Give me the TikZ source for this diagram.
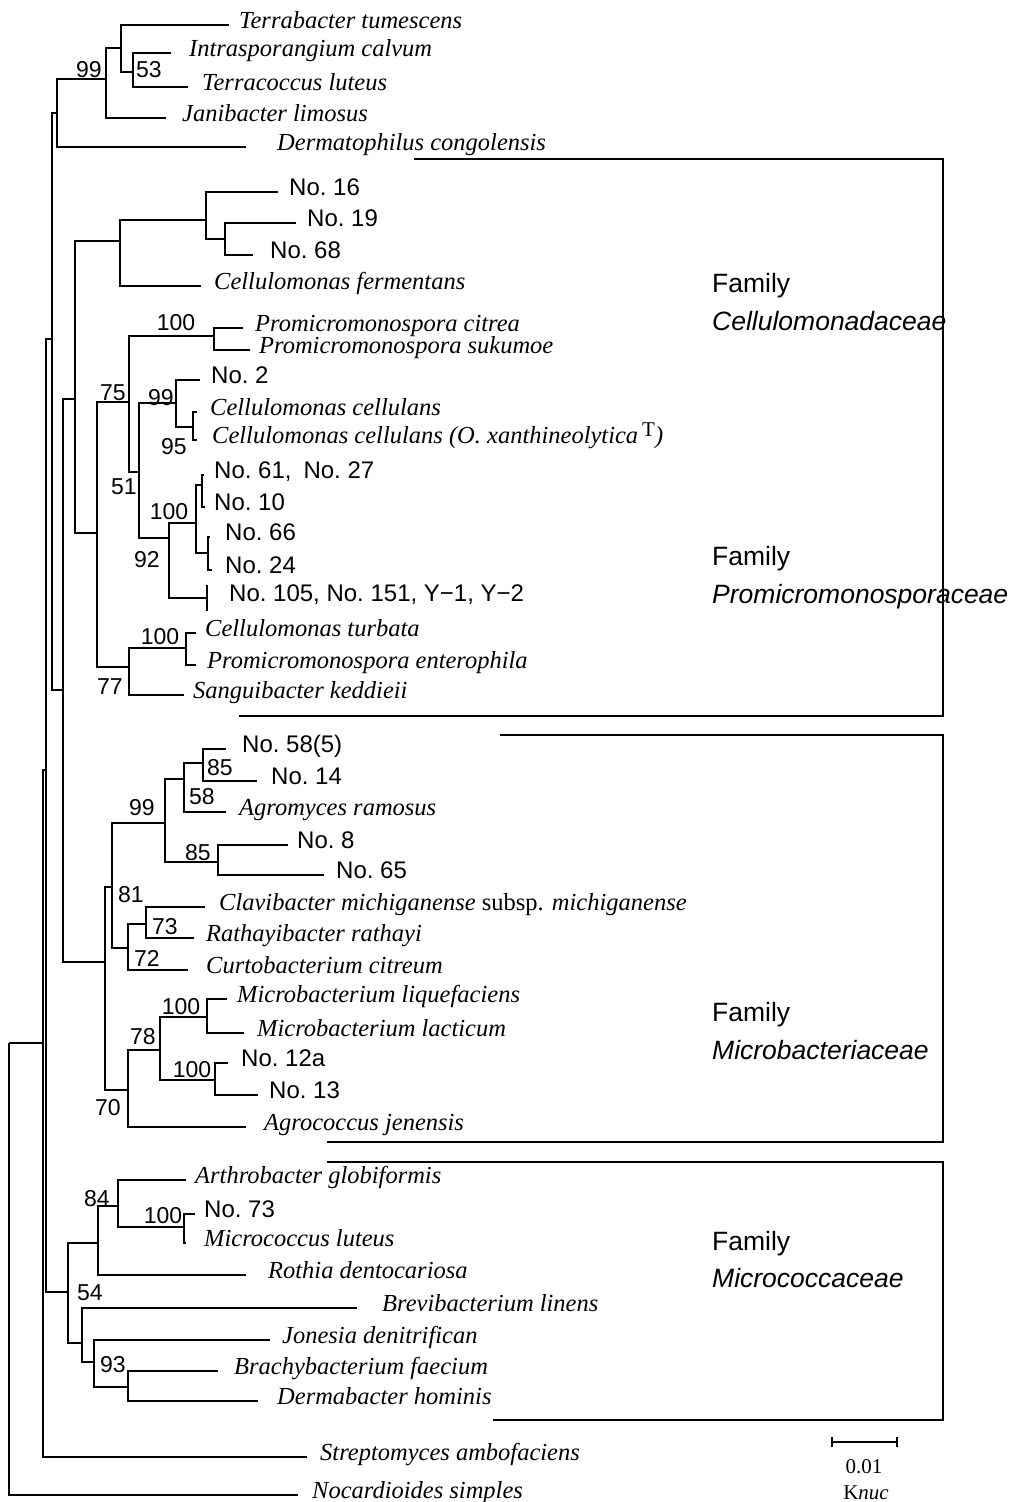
\documentclass[tikz,border=0pt]{standalone}
\usepackage{fontspec}
\setmainfont{Liberation Serif}
\setsansfont{Liberation Sans}
\newcommand\leafat[6]{%
  \coordinate (e-#1) at (#2,#3);
  \node[#5] (t-#1) at (#4,#3+3) {#6};}
\begin{document}
\begin{tikzpicture}[x=1pt,y=-1pt,
  br/.style={line width=1.4pt},
  boxline/.style={line width=1.7pt},
  sp/.style={anchor=base west,inner sep=0pt,font=\fontsize{24.5}{28}\selectfont\itshape},
  iso/.style={anchor=base west,inner sep=0pt,font=\sffamily\fontsize{24}{28}\selectfont},
  bs/.style={inner sep=0pt,font=\sffamily\fontsize{23}{26}\selectfont},
  fam/.style={anchor=west,inner sep=0pt,font=\sffamily\fontsize{26.5}{30}\selectfont}]
\fill[white] (0,0) rectangle (1015,1502);
\useasboundingbox (0,0) rectangle (1015,1502);

% ---- internal nodes (x of the vertical bar, y where the parent joins)
\coordinate (R0) at (9,1043);
\coordinate (R1) at (43,1043);
\coordinate (R2) at (46,770);
\coordinate (nE) at (52,339);
\coordinate (nD) at (57,113);
\coordinate (nC) at (106,79);
\coordinate (nA) at (121,48);
\coordinate (nB) at (133,72);
\coordinate (nF) at (63,690);
\coordinate (nU) at (75,399);
\coordinate (nQ) at (120,241);
\coordinate (nS) at (206,220);
\coordinate (nT) at (225,239);
\coordinate (n75) at (97,533);
\coordinate (nW) at (129,402);
\coordinate (nV) at (214,336);
\coordinate (nX) at (139,472);
\coordinate (nY) at (176,403);
\coordinate (nZ) at (193,427);
\coordinate (nAA) at (169,538);
\coordinate (nAB) at (196,523);
\coordinate (nAC) at (202,485);
\coordinate (nAD) at (208,553);
\coordinate (nAE) at (129,667);
\coordinate (nAF) at (186,648);
\coordinate (nG) at (105,962);
\coordinate (nJ) at (112,887);
\coordinate (nH) at (165,823);
\coordinate (nAN) at (184,779);
\coordinate (nAO) at (203,763);
\coordinate (nAP) at (218,862);
\coordinate (nL) at (128,948);
\coordinate (nM) at (146,924);
\coordinate (nK) at (128,1090);
\coordinate (nN) at (160,1050);
\coordinate (nAQ) at (207,1017);
\coordinate (nAR) at (215,1080);
\coordinate (nAG) at (68,1292);
\coordinate (nAH) at (98,1243);
\coordinate (nAI) at (118,1206);
\coordinate (nAJ) at (184,1227);
\coordinate (nAK) at (82,1343);
\coordinate (nAL) at (94,1362);
\coordinate (nAM) at (128,1387);

% ---- leaves: name, branch end x, y, label x, style, text
\leafat{terrab}{229}{25}{239}{sp}{Terrabacter tumescens}
\leafat{intra}{171}{53}{189}{sp}{Intrasporangium calvum}
\leafat{terra}{188}{87}{202}{sp}{Terracoccus luteus}
\leafat{jani}{166}{118}{182}{sp}{Janibacter limosus}
\leafat{dermato}{246}{147}{277}{sp}{Dermatophilus congolensis}
\leafat{no16}{278}{192}{289}{iso}{No.\ 16}
\leafat{no19}{296}{223}{307}{iso}{No.\ 19}
\leafat{no68}{253}{255}{270}{iso}{No.\ 68}
\leafat{cferm}{201}{286}{214}{sp}{Cellulomonas fermentans}
\leafat{pcit}{243}{328}{255}{sp}{Promicromonospora citrea}
\leafat{psuk}{250}{350}{259}{sp}{Promicromonospora sukumoe}
\leafat{no2}{200}{380}{211}{iso}{No.\ 2}
\leafat{ccel}{197}{412}{210}{sp}{Cellulomonas cellulans}
\leafat{ccelo}{197}{440}{212}{sp}{Cellulomonas cellulans (O.\ xanthineolytica\,\raisebox{0.55ex}{\upshape\fontsize{21}{21}\selectfont T})}
\leafat{no61}{204}{475}{214}{iso}{No.\ 61,\hspace{0.5em}No.\ 27}
\leafat{no10}{205}{507}{214}{iso}{No.\ 10}
\leafat{no66}{210}{537}{225}{iso}{No.\ 66}
\leafat{no24}{212}{570}{225}{iso}{No.\ 24}
\leafat{no105}{207}{598}{229}{iso}{No.\ 105, No.\ 151, Y−1, Y−2}
\leafat{ctur}{196}{633}{205}{sp}{Cellulomonas turbata}
\leafat{pent}{196}{665}{207}{sp}{Promicromonospora enterophila}
\leafat{sang}{184}{695}{193}{sp}{Sanguibacter keddieii}
\leafat{no58}{226}{749}{242}{iso}{No.\ 58(5)}
\leafat{no14}{257}{781}{271}{iso}{No.\ 14}
\leafat{agro}{226}{812}{239}{sp}{Agromyces ramosus}
\leafat{no8}{288}{845}{297}{iso}{No.\ 8}
\leafat{no65}{324}{875}{336}{iso}{No.\ 65}
\leafat{clav}{205}{907}{219}{sp}{Clavibacter michiganense {\upshape subsp.} michiganense}
\leafat{rath}{194}{938}{206}{sp}{Rathayibacter rathayi}
\leafat{curto}{188}{970}{206}{sp}{Curtobacterium citreum}
\leafat{mliq}{227}{999}{237}{sp}{Microbacterium liquefaciens}
\leafat{mlac}{244}{1033}{257}{sp}{Microbacterium lacticum}
\leafat{no12a}{228}{1063}{241}{iso}{No.\ 12a}
\leafat{no13}{258}{1095}{269}{iso}{No.\ 13}
\leafat{agrc}{246}{1127}{264}{sp}{Agrococcus jenensis}
\leafat{arth}{186}{1180}{195}{sp}{Arthrobacter globiformis}
\leafat{no73}{195}{1214}{204}{iso}{No.\ 73}
\leafat{mlut}{186}{1243}{204}{sp}{Micrococcus luteus}
\leafat{roth}{246}{1275}{268}{sp}{Rothia dentocariosa}
\leafat{brev}{357}{1308}{382}{sp}{Brevibacterium linens}
\leafat{jone}{270}{1340}{282}{sp}{Jonesia denitrifican}
\leafat{brach}{218}{1371}{234}{sp}{Brachybacterium faecium}
\leafat{derm}{258}{1401}{277}{sp}{Dermabacter hominis}
\leafat{strep}{307}{1457}{320}{sp}{Streptomyces ambofaciens}
\leafat{noca}{298}{1495}{312}{sp}{Nocardioides simples}

% ---- branches
\draw[br]
  (R0) |- (R1)   (R0) |- (e-noca)
  (R1) |- (R2)   (R1) |- (e-strep)
  (R2) |- (nE)   (R2) |- (nAG)
  (nE) |- (nD)   (nE) |- (nF)
  (nD) |- (nC)   (nD) |- (e-dermato)
  (nC) |- (nA)   (nC) |- (e-jani)
  (nA) |- (e-terrab) (nA) |- (nB)
  (nB) |- (e-intra)  (nB) |- (e-terra)
  (nF) |- (nU)   (nF) |- (nG)
  (nU) |- (nQ)   (nU) |- (n75)
  (nQ) |- (nS)   (nQ) |- (e-cferm)
  (nS) |- (e-no16) (nS) |- (nT)
  (nT) |- (e-no19) (nT) |- (e-no68)
  (n75) |- (nW)  (n75) |- (nAE)
  (nW) |- (nV)   (nW) |- (nX)
  (nV) |- (e-pcit) (nV) |- (e-psuk)
  (nX) |- (nY)   (nX) |- (nAA)
  (nY) |- (e-no2) (nY) |- (nZ)
  (nZ) |- (e-ccel) (nZ) |- (e-ccelo)
  (nAA) |- (nAB) (nAA) |- (e-no105)
  (nAB) |- (nAC) (nAB) |- (nAD)
  (nAC) |- (e-no61) (nAC) |- (e-no10)
  (nAD) |- (e-no66) (nAD) |- (e-no24)
  (nAE) |- (nAF) (nAE) |- (e-sang)
  (nAF) |- (e-ctur) (nAF) |- (e-pent)
  (nG) |- (nJ)   (nG) |- (nK)
  (nJ) |- (nH)   (nJ) |- (nL)
  (nH) |- (nAN)  (nH) |- (nAP)
  (nAN) |- (nAO) (nAN) |- (e-agro)
  (nAO) |- (e-no58) (nAO) |- (e-no14)
  (nAP) |- (e-no8) (nAP) |- (e-no65)
  (nL) |- (nM)   (nL) |- (e-curto)
  (nM) |- (e-clav) (nM) |- (e-rath)
  (nK) |- (nN)   (nK) |- (e-agrc)
  (nN) |- (nAQ)  (nN) |- (nAR)
  (nAQ) |- (e-mliq) (nAQ) |- (e-mlac)
  (nAR) |- (e-no12a) (nAR) |- (e-no13)
  (nAG) |- (nAH) (nAG) |- (nAK)
  (nAH) |- (nAI) (nAH) |- (e-roth)
  (nAI) |- (e-arth) (nAI) |- (nAJ)
  (nAJ) |- (e-no73) (nAJ) |- (e-mlut)
  (nAK) |- (e-brev) (nAK) |- (nAL)
  (nAL) |- (e-jone) (nAL) |- (nAM)
  (nAM) |- (e-brach) (nAM) |- (e-derm);
% collapsed group of identical strains
\draw[br] (e-no105) ++(0,-13) -- ++(0,26);

% ---- bootstrap values
\node[bs] (b99a) at (89,70) {99};
\node[bs] (b53) at (149,70) {53};
\node[bs] (b100a) at (176,323) {100};
\node[bs] (b75) at (113,393) {75};
\node[bs] (b99b) at (161,398) {99};
\node[bs] (b95) at (174,447) {95};
\node[bs] (b51) at (124,487) {51};
\node[bs] (b100b) at (169,512) {100};
\node[bs] (b92) at (147,560) {92};
\node[bs] (b100c) at (160,637) {100};
\node[bs] (b77) at (110,687) {77};
\node[bs] (b85a) at (220,768) {85};
\node[bs] (b58) at (202,797) {58};
\node[bs] (b99c) at (142,808) {99};
\node[bs] (b85b) at (198,853) {85};
\node[bs] (b81) at (131,895) {81};
\node[bs] (b73) at (165,927) {73};
\node[bs] (b72) at (147,958) {72};
\node[bs] (b100d) at (181,1007) {100};
\node[bs] (b78) at (143,1037) {78};
\node[bs] (b100e) at (192,1070) {100};
\node[bs] (b70) at (108,1108) {70};
\node[bs] (b84) at (97,1199) {84};
\node[bs] (b100f) at (163,1216) {100};
\node[bs] (b54) at (90,1293) {54};
\node[bs] (b93) at (113,1365) {93};

% ---- family boxes
\draw[boxline] (414,159) -- (943,159) -- (943,716) -- (239,716);
\draw[boxline] (500,735) -- (943,735) -- (943,1142) -- (327,1142);
\draw[boxline] (327,1162) -- (943,1162) -- (943,1420) -- (493,1420);

\node[fam] (f1a) at (712,286) {Family};
\node[fam] (f1b) at (712,321) {\itshape Cellulomonadaceae};
\node[fam] (f2a) at (712,559) {Family};
\node[fam] (f2b) at (712,597) {\itshape Promicromonosporaceae};
\node[fam] (f3a) at (712,1015) {Family};
\node[fam] (f3b) at (712,1050) {\itshape Microbacteriaceae};
\node[fam] (f4a) at (712,1244) {Family};
\node[fam] (f4b) at (712,1278) {\itshape Micrococcaceae};

% ---- scale bar
\coordinate (sb1) at (832,1442);
\coordinate (sb2) at (897,1442);
\draw[br] (sb1) -- (sb2);
\draw[br] (sb1) ++(0,-5) -- ++(0,10);
\draw[br] (sb2) ++(0,-5) -- ++(0,10);
\node[inner sep=0pt,font=\fontsize{21}{24}\selectfont] (sbv) at (864,1467) {0.01};
\node[inner sep=0pt,anchor=base,font=\fontsize{21}{24}\selectfont] (sbu) at (866,1499) {K\textit{nuc}};
\end{tikzpicture}
\end{document}
